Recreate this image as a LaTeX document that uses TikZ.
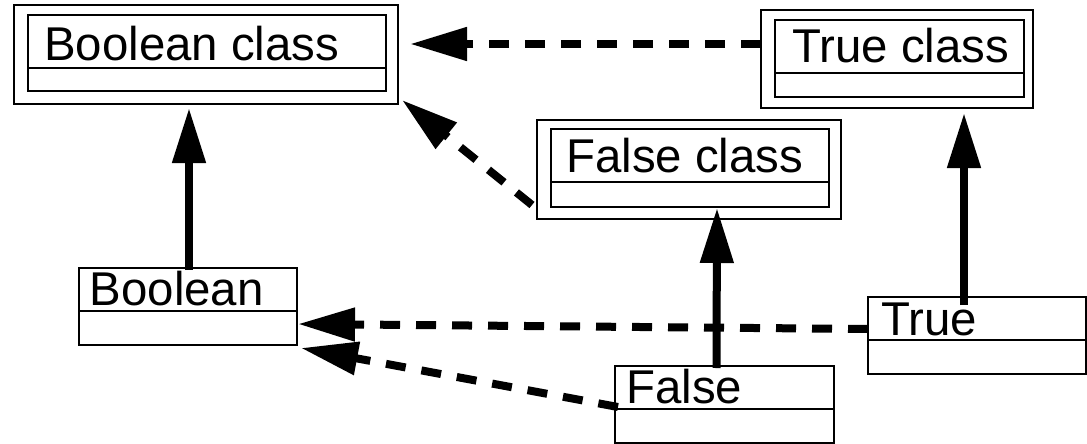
\documentclass[tikz,border=0pt]{standalone}
\usepackage{fontspec}
\setmainfont{Liberation Sans}
\usetikzlibrary{arrows.meta, calc}

\tikzset{
  umlbox/.style={draw, line width=1.3pt, anchor=north west, inner sep=0pt, outer sep=0pt},
  part/.style={line width=1.3pt},
  lbl/.style={anchor=base west, inner sep=0pt, font=\fontsize{47.4}{50}\selectfont},
  isa/.style={line width=8pt, -{Triangle[length=55pt, width=32pt]}},
  inst/.style={line width=8pt, dash pattern=on 20pt off 16pt, -{Triangle[length=57pt, width=32pt]}},
}

\begin{document}
\begin{tikzpicture}[x=1pt, y=-1pt]
  \useasboundingbox (0,0) rectangle (1087,444);

  % class objects (double frame)
  \node[umlbox, minimum width=384pt, minimum height=99pt] (bcls) at (14,5) {};
  \draw[part] (28,15) rectangle (386,91) (28,68) -- (386,68);
  \node[lbl] (bclsname) at (44,60) {Boolean class};

  \node[umlbox, minimum width=272pt, minimum height=98pt] (tcls) at (761,10) {};
  \draw[part] (775,20) rectangle (1024,97) (775,73) -- (1024,73);
  \node[lbl] (tclsname) at (792,63) {True class};

  \node[umlbox, minimum width=304pt, minimum height=99pt] (fcls) at (537,120) {};
  \draw[part] (551,129) rectangle (829,207) (551,182) -- (829,182);
  \node[lbl] (fclsname) at (566,172) {False class};

  % plain classes
  \node[umlbox, minimum width=218pt, minimum height=77pt] (bool) at (79,268) {};
  \draw[part] (79,311) -- (297,311);
  \node[lbl] (boolname) at (89.5,305) {Boolean};

  \node[umlbox, minimum width=218pt, minimum height=77pt] (true) at (868,297) {};
  \draw[part] (868,340) -- (1086,340);
  \node[lbl] (truename) at (881,335) {True};

  \node[umlbox, minimum width=219pt, minimum height=77pt] (false) at (615,366) {};
  \draw[part] (615,409) -- (834,409);
  \node[lbl] (falsename) at (626,403) {False};

  % instance-of links
  \draw[inst] ($(tcls.west)+(0,-15)$) -- ($(bcls.east)+(12,-10.5)$);
  \draw[inst] ($(fcls.south west)+(-5,-14)$) -- ($(bcls.south east)+(4,-4)$);
  \draw[inst] ($(true.west)+(0,-6.5)$) -- ($(bool.east)+(1,17.5)$);
  \draw[inst] ($(false.west)+(3,2.5)$) -- ($(bool.south east)+(4,3)$);

  % subclass links
  \draw[isa] ($(bool.north)+(1,2)$) -- ($(bcls.south)+(-17,4)$);
  \draw[isa] ($(false.north)+(-8,2)$) -- ($(fcls.south)+(28,-11)$);
  \draw[isa] ($(true.north)+(-13,8)$) -- ($(tcls.south)+(67,5)$);
\end{tikzpicture}
\end{document}
